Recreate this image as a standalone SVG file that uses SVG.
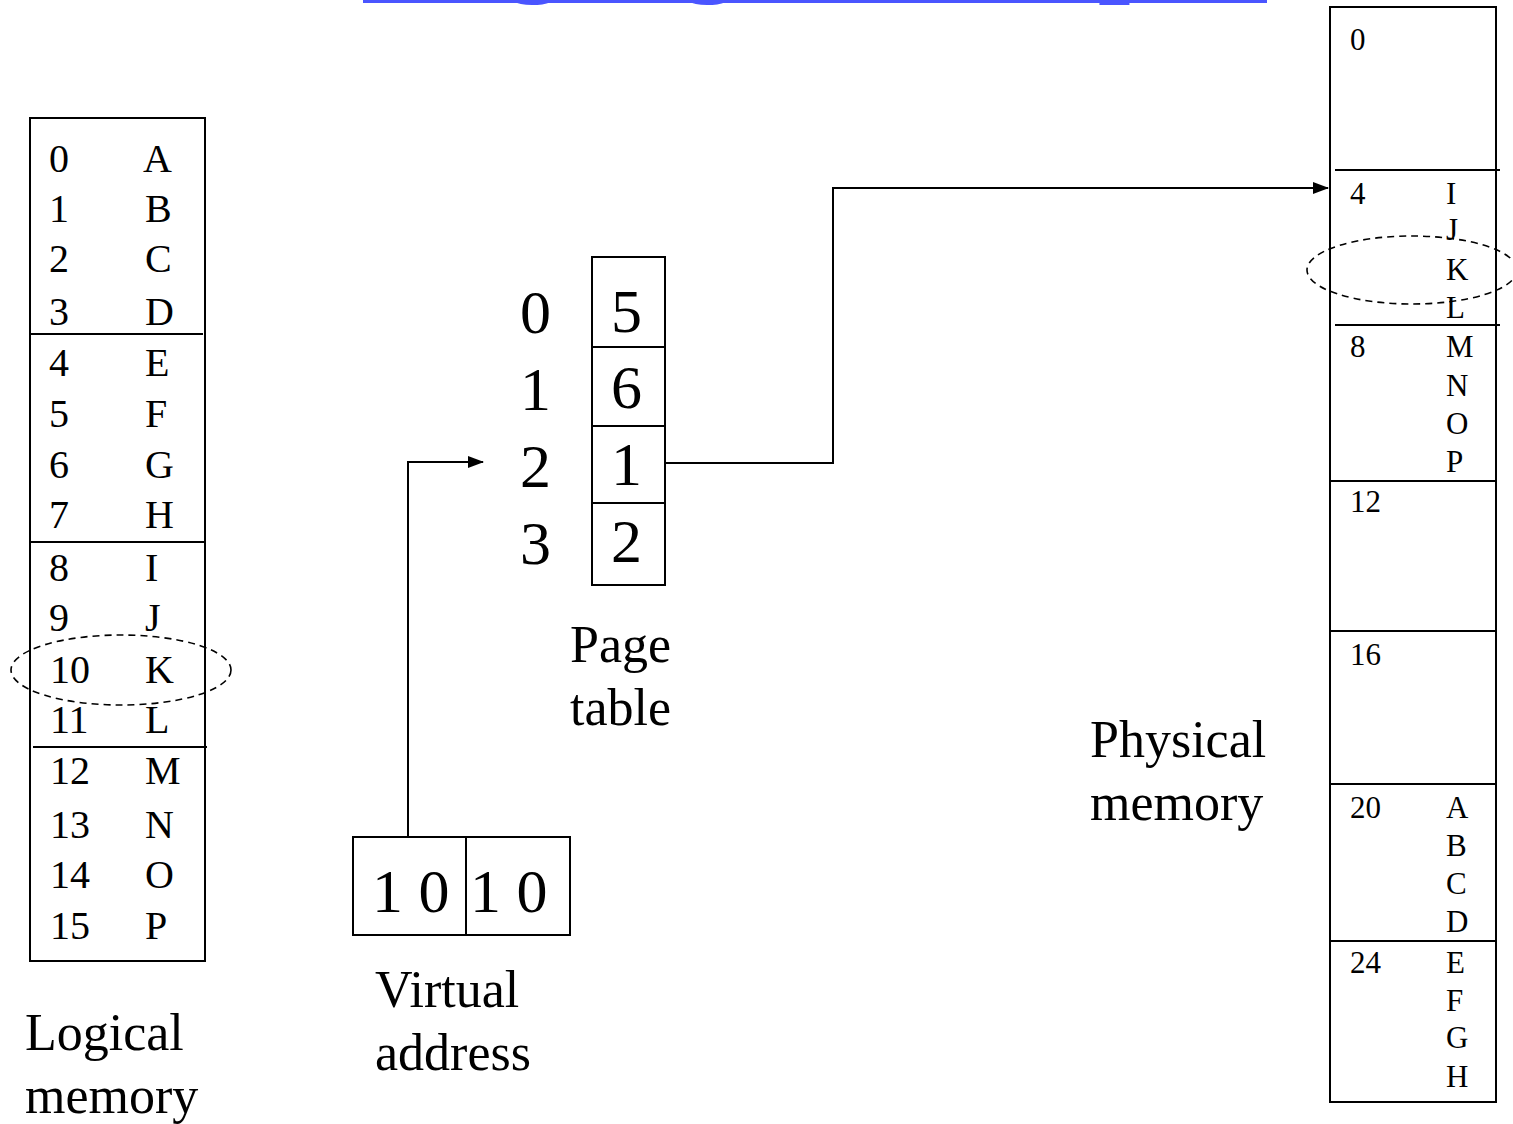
<svg xmlns="http://www.w3.org/2000/svg" width="1513" height="1124" viewBox="0 0 1513 1124">
<style>
text{font-family:"Liberation Serif","Times New Roman",serif;fill:#000}
.lm{font-size:40px}
.pm{font-size:31px}
.pt{font-size:62px}
.lbl{font-size:52px}
.box{fill:none;stroke:#000;stroke-width:2}
.ln{stroke:#000;stroke-width:2}
.dash{fill:none;stroke:#000;stroke-width:1.6;stroke-dasharray:7 5}
.con{fill:none;stroke:#000;stroke-width:2}
</style>
<defs>
<marker id="ah" markerWidth="16" markerHeight="12" refX="15" refY="6" orient="auto" markerUnits="userSpaceOnUse">
<path d="M0,0 L16,6 L0,12 Z" fill="#000"/>
</marker>
</defs>
<rect width="1513" height="1124" fill="#fff"/>
<g id="title">
<text x="363" y="-24" style="font-size:137px;fill:#4A55FF">Paging Example</text>
<rect x="363" y="0" width="904" height="3" fill="#4A55FF"/>
</g>
<g id="logical-memory">
<rect class="box" x="30" y="118" width="175" height="843"/>
<line class="ln" x1="30" y1="334" x2="203" y2="334"/>
<line class="ln" x1="30" y1="542" x2="205" y2="542"/>
<line class="ln" x1="33" y1="747" x2="207" y2="747"/>
<g class="lm">
<text x="49" y="172">0</text><text x="143" y="172">A</text>
<text x="49" y="222">1</text><text x="145" y="222">B</text>
<text x="49" y="272">2</text><text x="145" y="272">C</text>
<text x="49" y="325">3</text><text x="145" y="325">D</text>
<text x="49" y="376">4</text><text x="145" y="376">E</text>
<text x="49" y="427">5</text><text x="145" y="427">F</text>
<text x="49" y="478">6</text><text x="145" y="478">G</text>
<text x="49" y="528">7</text><text x="145" y="528">H</text>
<text x="49" y="581">8</text><text x="145" y="581">I</text>
<text x="49" y="631">9</text><text x="145" y="631">J</text>
<text x="50" y="683">10</text><text x="145" y="683">K</text>
<text x="50" y="733">11</text><text x="145" y="733">L</text>
<text x="50" y="784">12</text><text x="145" y="784">M</text>
<text x="50" y="838">13</text><text x="145" y="838">N</text>
<text x="50" y="888">14</text><text x="145" y="888">O</text>
<text x="50" y="939">15</text><text x="145" y="939">P</text>
</g>
<ellipse class="dash" cx="121" cy="670" rx="110" ry="35"/>
<text class="lbl" x="25" y="1050">Logical</text>
<text class="lbl" x="25" y="1113">memory</text>
</g>
<g id="page-table">
<rect class="box" x="592" y="257" width="73" height="328"/>
<line class="ln" x1="592" y1="347" x2="665" y2="347"/>
<line class="ln" x1="592" y1="426" x2="665" y2="426"/>
<line class="ln" x1="592" y1="503" x2="665" y2="503"/>
<g class="pt">
<text x="520" y="333">0</text><text x="611" y="332">5</text>
<text x="520" y="410">1</text><text x="611" y="408">6</text>
<text x="520" y="487">2</text><text x="611" y="485">1</text>
<text x="520" y="564">3</text><text x="611" y="562">2</text>
</g>
<text class="lbl" x="570" y="662">Page</text>
<text class="lbl" x="570" y="725">table</text>
</g>
<g id="virtual-address">
<rect class="box" x="353" y="837" width="217" height="98"/>
<line class="ln" x1="466" y1="837" x2="466" y2="935"/>
<text class="pt" x="372" y="912">1 0</text>
<text class="pt" x="470" y="912">1 0</text>
<text class="lbl" x="375" y="1007">Virtual</text>
<text class="lbl" x="375" y="1070">address</text>
</g>
<g id="physical-memory">
<rect class="box" x="1330" y="7" width="166" height="1095"/>
<line class="ln" x1="1335" y1="170" x2="1500" y2="170"/>
<line class="ln" x1="1335" y1="325" x2="1500" y2="325"/>
<line class="ln" x1="1330" y1="481" x2="1496" y2="481"/>
<line class="ln" x1="1330" y1="631" x2="1496" y2="631"/>
<line class="ln" x1="1330" y1="784" x2="1496" y2="784"/>
<line class="ln" x1="1330" y1="941" x2="1496" y2="941"/>
<g class="pm">
<text x="1350" y="50">0</text>
<text x="1350" y="204">4</text><text x="1446" y="204">I</text>
<text x="1446" y="240">J</text>
<text x="1446" y="280">K</text>
<text x="1446" y="318">L</text>
<text x="1350" y="357">8</text><text x="1446" y="357">M</text>
<text x="1446" y="396">N</text>
<text x="1446" y="434">O</text>
<text x="1446" y="472">P</text>
<text x="1350" y="512">12</text>
<text x="1350" y="665">16</text>
<text x="1350" y="818">20</text><text x="1446" y="818">A</text>
<text x="1446" y="856">B</text>
<text x="1446" y="894">C</text>
<text x="1446" y="932">D</text>
<text x="1350" y="973">24</text><text x="1446" y="973">E</text>
<text x="1446" y="1011">F</text>
<text x="1446" y="1048">G</text>
<text x="1446" y="1087">H</text>
</g>
<ellipse class="dash" cx="1412" cy="270" rx="105" ry="34"/>
<text class="lbl" x="1090" y="757">Physical</text>
<text class="lbl" x="1090" y="820">memory</text>
</g>
<g id="connectors">
<path class="con" d="M408,837 L408,462 L483,462" marker-end="url(#ah)"/>
<path class="con" d="M665,463 L833,463 L833,188 L1328,188" marker-end="url(#ah)"/>
</g>
</svg>
